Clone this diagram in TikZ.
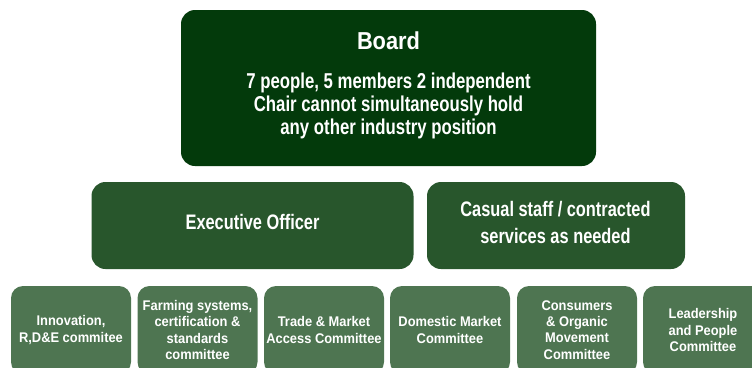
\documentclass[tikz,border=0pt]{standalone}
\usepackage{fontspec}
\newfontfamily\condA[FakeStretch=0.78]{Liberation Sans Bold}
\newfontfamily\condB[FakeStretch=0.89]{Liberation Sans Bold}
\newfontfamily\condC[FakeStretch=0.92]{Liberation Sans Bold}
\definecolor{boardgreen}{HTML}{033A0B}
\definecolor{midgreen}{HTML}{28562C}
\definecolor{lowgreen}{HTML}{4E7551}
\tikzset{
  boardbox/.style={fill=boardgreen, rounded corners=14pt, minimum width=415pt, minimum height=156pt, inner sep=0pt},
  wtext/.style={text=white, align=center, inner sep=0pt},
  midbox/.style={fill=midgreen, rounded corners=14pt, minimum height=87pt, inner sep=0pt},
  midtext/.style={wtext, font=\condA\fontsize{21}{26.6}\selectfont},
  lowbox/.style={fill=lowgreen, rounded corners=12pt, minimum width=120pt, minimum height=88pt, wtext, font=\condC\fontsize{14}{16.2}\selectfont}
}
\begin{document}
\begin{tikzpicture}[x=1pt,y=-1pt]
\useasboundingbox (0,0) rectangle (752,367);
\clip (0,0) rectangle (752,367);
\node[boardbox] (board) at (388.5,88) {};
\node[wtext, anchor=base, font=\condB\fontsize{24.5}{28}\selectfont] (boardtitle) at (388.5,49.3) {Board};
\node[wtext, font=\condA\fontsize{21.5}{23}\selectfont] (boardtext) at (388.5,105.7) {7 people, 5 members 2 independent\\Chair cannot simultaneously hold\\any other industry position};
\node[midbox, minimum width=322pt] (exec) at (252.5,225.5) {};
\node[midtext, anchor=base] (exectext) at (252.5,229.3) {Executive Officer};
\node[midbox, minimum width=258pt] (casual) at (556,225.5) {};
\node[midtext] (casualtext) at (555.5,222.5) {Casual staff / contracted\\services as needed};
\node[lowbox] (c1) at (71,330) {Innovation,\\R,D\&E commitee};
\node[lowbox] (c2) at (197.5,330) {Farming systems,\\certification \&\\standards\\committee};
\node[lowbox] (c3) at (324,330) {Trade \& Market\\Access Committee};
\node[lowbox] (c4) at (450,330) {Domestic Market\\Committee};
\node[lowbox] (c5) at (577,330) {Consumers\\\& Organic\\Movement\\Committee};
\node[lowbox] (c6) at (703,330) {Leadership\\and People\\Committee};
\end{tikzpicture}
\end{document}
